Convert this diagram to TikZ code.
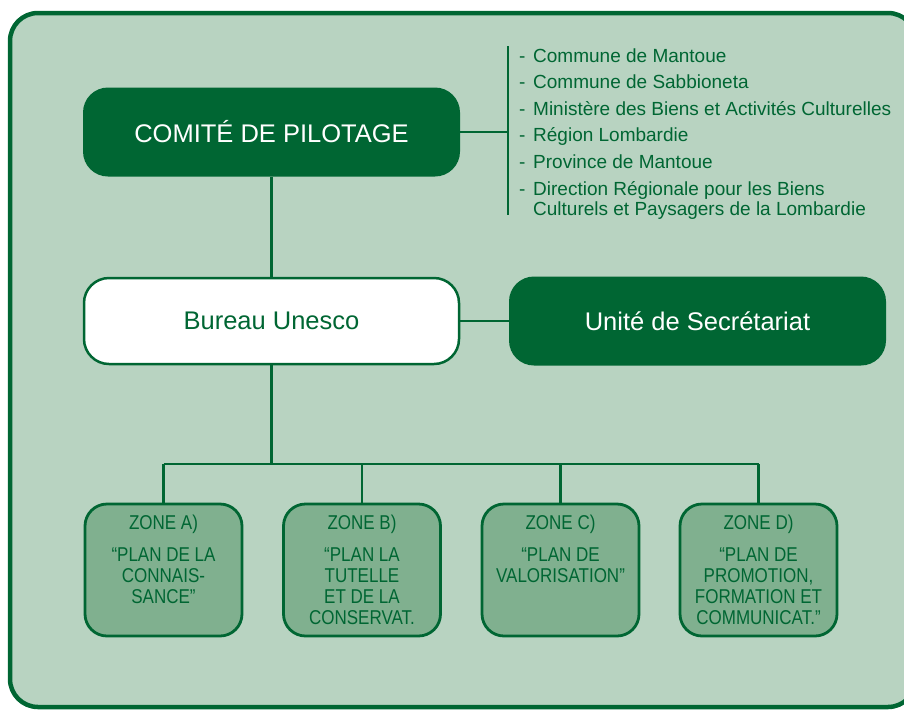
\documentclass[tikz,border=0pt]{standalone}
\usepackage{fontspec}
\setmainfont{Liberation Sans}
\newfontfamily\condfont[FakeStretch=0.85]{Liberation Sans}
\definecolor{dg}{RGB}{0,102,51}
\definecolor{bgc}{RGB}{184,211,193}
\definecolor{zf}{RGB}{128,176,143}
\begin{document}
\begin{tikzpicture}[x=1pt,y=-1pt,
  conn/.style={draw=dg, line width=2.5pt},
  darkbox/.style={fill=dg, rounded corners=25pt, minimum width=377pt, minimum height=89pt,
    text=white, font=\fontsize{25.5}{30}\selectfont, inner sep=0pt},
  whitebox/.style={fill=white, draw=dg, line width=2.5pt, rounded corners=25pt, minimum width=375pt,
    minimum height=86pt, text=dg, font=\fontsize{25.5}{30}\selectfont, inner sep=0pt},
  zonebox/.style={fill=zf, draw=dg, line width=2.8pt, rounded corners=22pt, minimum width=157pt,
    minimum height=132pt, inner sep=0pt},
  zonetext/.style={text=dg, font=\condfont\fontsize{20}{21}\selectfont, align=center, inner sep=0pt, anchor=north},
  listitem/.style={text=dg, font=\fontsize{19}{20}\selectfont, anchor=base west, inner sep=0pt, align=left}
]
\useasboundingbox (0,0) rectangle (904,710);
\draw[draw=dg, fill=bgc, line width=4.5pt, rounded corners=28pt] (10,13) rectangle (916,707);

% main boxes
\node[darkbox] (cp) at (271.5,132) {COMITÉ DE PILOTAGE};
\node[whitebox] (bu) at (271.5,321) {Bureau Unesco};
\node[darkbox] (us) at (697.5,321) {Unité de Secrétariat};

% zones
\node[zonebox] (zA) at (163.5,570) {};
\node[zonebox] (zB) at (362,570) {};
\node[zonebox] (zC) at (560.5,570) {};
\node[zonebox] (zD) at (758.5,570) {};

\node[zonetext] (tA) at ([yshift=-12pt]zA.north) {ZONE A)\\[11pt]“PLAN DE LA\\CONNAIS-\\SANCE”};
\node[zonetext] (tB) at ([yshift=-12pt]zB.north) {ZONE B)\\[11pt]“PLAN LA\\TUTELLE\\ET DE LA\\CONSERVAT.};
\node[zonetext] (tC) at ([yshift=-12pt]zC.north) {ZONE C)\\[11pt]“PLAN DE\\VALORISATION”};
\node[zonetext] (tD) at ([yshift=-12pt]zD.north) {ZONE D)\\[11pt]“PLAN DE\\PROMOTION,\\FORMATION ET\\COMMUNICAT.”};

% member list
\coordinate (bt) at (508,46);
\coordinate (bb) at (508,215);
\node[listitem] (l1) at (519,62) {\makebox[14pt][l]{-}Commune de Mantoue};
\node[listitem] (l2) at (519,88.5) {\makebox[14pt][l]{-}Commune de Sabbioneta};
\node[listitem] (l3) at (519,115) {\makebox[14pt][l]{-}Ministère des Biens et Activités Culturelles};
\node[listitem] (l4) at (519,141.5) {\makebox[14pt][l]{-}Région Lombardie};
\node[listitem] (l5) at (519,168) {\makebox[14pt][l]{-}Province de Mantoue};
\node[listitem] (l6) at (519,215) {\makebox[14pt][l]{-}Direction Régionale pour les Biens\\\hspace*{14pt}Culturels et Paysagers de la Lombardie};

% connectors
\draw[conn] (bt) -- (bb);
\draw[conn] (cp.east) -- (cp.east -| bt);
\draw[conn] (cp) -- (bu);
\draw[conn] (bu) -- (us);
\coordinate (bar) at (0,464);
\draw[conn] (bu.south) -- (bu.south |- bar);
\draw[conn] (zA.north |- bar) -- (zD.north |- bar);
\foreach \z in {zA,zB,zC,zD} \draw[conn] (\z.north |- bar) -- (\z.north);
\end{tikzpicture}
\end{document}
